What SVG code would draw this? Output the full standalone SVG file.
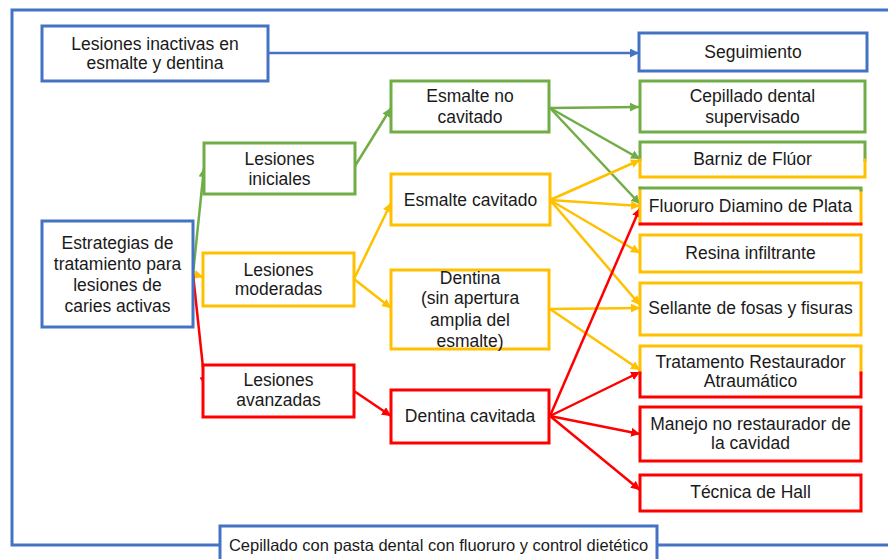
<svg xmlns="http://www.w3.org/2000/svg" width="888" height="559" viewBox="0 0 888 559">
<defs>
<style>
text{font-family:"Liberation Sans",Arial,sans-serif;font-size:17.5px;fill:#1a1a1a;text-anchor:middle}
.box{fill:#fff;stroke-width:3}
.b{stroke:#4472C4}.g{stroke:#70AD47}.o{stroke:#FFC000}.r{stroke:#FF0000}
.edge{fill:none;stroke-width:2.5}
.seg{fill:none;stroke-width:3;stroke-linecap:square}
</style>
<marker id="ab" viewBox="0 0 10 10" refX="10" refY="5" markerWidth="9" markerHeight="9" markerUnits="userSpaceOnUse" orient="auto"><path d="M0,0L10,5L0,10z" fill="#4472C4"/></marker>
<marker id="ag" viewBox="0 0 10 10" refX="10" refY="5" markerWidth="9" markerHeight="9" markerUnits="userSpaceOnUse" orient="auto"><path d="M0,0L10,5L0,10z" fill="#70AD47"/></marker>
<marker id="ao" viewBox="0 0 10 10" refX="10" refY="5" markerWidth="9" markerHeight="9" markerUnits="userSpaceOnUse" orient="auto"><path d="M0,0L10,5L0,10z" fill="#FFC000"/></marker>
<marker id="ar" viewBox="0 0 10 10" refX="10" refY="5" markerWidth="9" markerHeight="9" markerUnits="userSpaceOnUse" orient="auto"><path d="M0,0L10,5L0,10z" fill="#FF0000"/></marker>
</defs>
<rect width="888" height="559" fill="#fff"/>
<rect id="frame" x="12" y="10" width="900" height="535" fill="none" stroke="#4472C4" stroke-width="3"/>

<g id="connectors">
<line class="edge b" x1="268" y1="53" x2="639" y2="53" stroke-width="2" marker-end="url(#ab)"/>
<g class="g">
<line class="edge" x1="193" y1="274" x2="204" y2="168" marker-end="url(#ag)"/>
<line class="edge" x1="355" y1="166" x2="391" y2="108" marker-end="url(#ag)"/>
<line class="edge" x1="550" y1="108" x2="639" y2="107" marker-end="url(#ag)"/>
<line class="edge" x1="550" y1="108" x2="640" y2="159" marker-end="url(#ag)"/>
<line class="edge" x1="550" y1="108" x2="640" y2="204" marker-end="url(#ag)"/>
</g>
<g class="o">
<line class="edge" x1="193" y1="274" x2="203" y2="277" marker-end="url(#ao)"/>
<line class="edge" x1="354" y1="279" x2="391" y2="203" marker-end="url(#ao)"/>
<line class="edge" x1="354" y1="279" x2="391" y2="308" marker-end="url(#ao)"/>
<line class="edge" x1="550" y1="200" x2="640" y2="160" marker-end="url(#ao)"/>
<line class="edge" x1="550" y1="200" x2="640" y2="206" marker-end="url(#ao)"/>
<line class="edge" x1="550" y1="200" x2="640" y2="253" marker-end="url(#ao)"/>
<line class="edge" x1="550" y1="200" x2="640" y2="305" marker-end="url(#ao)"/>
<line class="edge" x1="550" y1="309" x2="640" y2="308" marker-end="url(#ao)"/>
<line class="edge" x1="550" y1="309" x2="640" y2="370" marker-end="url(#ao)"/>
</g>
<g class="r">
<line class="edge" x1="193" y1="274" x2="205" y2="386" marker-end="url(#ar)"/>
<line class="edge" x1="354" y1="391" x2="391" y2="416" marker-end="url(#ar)"/>
<line class="edge" x1="550" y1="416" x2="640" y2="208" marker-end="url(#ar)"/>
<line class="edge" x1="550" y1="416" x2="640" y2="372" marker-end="url(#ar)"/>
<line class="edge" x1="550" y1="416" x2="640" y2="434" marker-end="url(#ar)"/>
<line class="edge" x1="550" y1="416" x2="640" y2="490" marker-end="url(#ar)"/>
</g>
</g>

<g id="n-inactivas"><rect class="box b" x="42" y="26" width="226" height="55"/><text x="155" y="50">Lesiones inactivas en</text><text x="155" y="69">esmalte y dentina</text></g>
<g id="n-seguimiento"><rect class="box b" x="639" y="33" width="228" height="38"/><text x="753" y="58">Seguimiento</text></g>
<g id="n-estrategias"><rect class="box b" x="42" y="221" width="151" height="106"/><text x="117.5" y="249">Estrategias de</text><text x="117.5" y="270">tratamiento para</text><text x="117.5" y="291">lesiones de</text><text x="117.5" y="312">caries activas</text></g>
<g id="n-iniciales"><rect class="box g" x="204" y="143" width="151" height="51"/><text x="279.5" y="165">Lesiones</text><text x="279.5" y="185">iniciales</text></g>
<g id="n-moderadas"><rect class="box o" x="203" y="253" width="151" height="53"/><text x="278.5" y="276">Lesiones</text><text x="278.5" y="295">moderadas</text></g>
<g id="n-avanzadas"><rect class="box r" x="203" y="365" width="151" height="52"/><text x="278.5" y="386">Lesiones</text><text x="278.5" y="406">avanzadas</text></g>
<g id="n-esm-no-cav"><rect class="box g" x="391" y="81" width="158" height="51"/><text x="470" y="102">Esmalte no</text><text x="470" y="123">cavitado</text></g>
<g id="n-esm-cav"><rect class="box o" x="391" y="174" width="159" height="51"/><text x="470.5" y="206">Esmalte cavitado</text></g>
<g id="n-dentina"><rect class="box o" x="391" y="270" width="158" height="79"/><text x="470" y="284">Dentina</text><text x="470" y="304">(sin apertura</text><text x="470" y="326">amplia del</text><text x="470" y="347">esmalte)</text></g>
<g id="n-dent-cav"><rect class="box r" x="391" y="390" width="158" height="53"/><text x="470" y="422">Dentina cavitada</text></g>
<g id="n-cepillado-sup"><rect class="box g" x="640" y="81" width="225" height="51"/><text x="752.5" y="102">Cepillado dental</text><text x="752.5" y="123">supervisado</text></g>
<g id="n-barniz"><rect x="640" y="142" width="225" height="35" fill="#fff"/><path class="seg g" d="M640,160V142H865V160"/><path class="seg o" d="M640,160V177H865V160"/><text x="752.5" y="165">Barniz de Flúor</text></g>
<g id="n-fluoruro"><rect x="640" y="188" width="221" height="36" fill="#fff"/><path class="seg o" d="M640,188V224M861,190V224"/><path class="seg g" d="M640,188H861V190"/><path class="seg r" d="M640,224H861"/><text x="750.5" y="212">Fluoruro Diamino de Plata</text></g>
<g id="n-resina"><rect class="box o" x="640" y="235" width="221" height="37"/><text x="750.5" y="259">Resina infiltrante</text></g>
<g id="n-sellante"><rect class="box o" x="640" y="283" width="221" height="52"/><text x="750.5" y="314">Sellante de fosas y fisuras</text></g>
<g id="n-art"><rect x="640" y="346" width="221" height="51" fill="#fff"/><path class="seg o" d="M640,373V346H861V373"/><path class="seg r" d="M640,373V397H861V373"/><text x="750.5" y="368">Tratamento Restaurador</text><text x="750.5" y="387">Atraumático</text></g>
<g id="n-manejo"><rect class="box r" x="640" y="407" width="221" height="54"/><text x="750.5" y="430">Manejo no restaurador de</text><text x="750.5" y="449">la cavidad</text></g>
<g id="n-hall"><rect class="box r" x="640" y="475" width="221" height="36"/><text x="750.5" y="498">Técnica de Hall</text></g>
<g id="n-cepillado-pasta"><rect class="box b" x="220" y="526" width="437" height="45"/><text x="438.5" y="551" style="font-size:16.5px">Cepillado con pasta dental con fluoruro y control dietético</text></g>
</svg>
